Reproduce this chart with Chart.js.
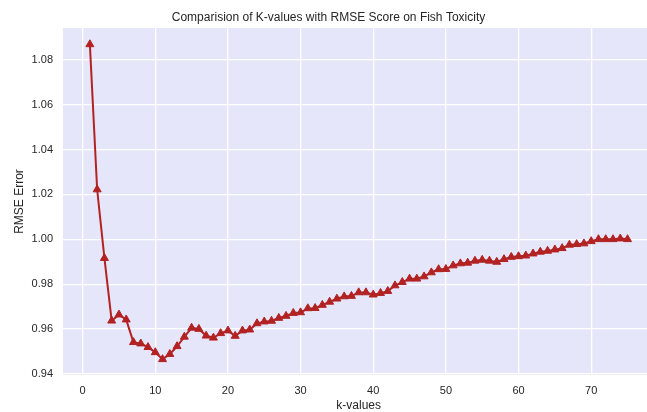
<!DOCTYPE html>
<html lang="en">
<head>
<meta charset="UTF-8" />
<title>Comparision of K-values with RMSE Score on Fish Toxicity</title>
<style>
  html, body { margin: 0; padding: 0; background: #fff; overflow: hidden; }
  #wrap { width: 660px; height: 412px; }
</style>
</head>
<body>
<div id="wrap"><canvas id="rmseChart" width="660" height="412"></canvas></div>
<script src="https://cdn.jsdelivr.net/npm/chart.js"></script>
<script>
  // k from 1 to 75
  const kValues = [];
  for (let k = 1; k <= 75; k++) kValues.push(k);

  // RMSE
  const rmseScores = [
    1.0869, 1.0222, 0.9916, 0.9637, 0.9664, 0.9642, 0.9541, 0.9535, 0.9519, 0.9496,
    0.9465, 0.9488, 0.9523, 0.9565, 0.9605, 0.9600, 0.9570, 0.9561, 0.9581, 0.9593,
    0.9569, 0.9593, 0.9597, 0.9625, 0.9633, 0.9636, 0.9649, 0.9658, 0.9671, 0.9674,
    0.9692, 0.9693, 0.9707, 0.9721, 0.9735, 0.9745, 0.9747, 0.9763, 0.9763, 0.9753,
    0.9760, 0.9769, 0.9794, 0.9809, 0.9824, 0.9824, 0.9834, 0.9852, 0.9866, 0.9867,
    0.9883, 0.9892, 0.9895, 0.9904, 0.9908, 0.9904, 0.9899, 0.9911, 0.9921, 0.9924,
    0.9927, 0.9936, 0.9944, 0.9948, 0.9954, 0.9960, 0.9975, 0.9978, 0.9981, 0.9991,
    1.0000, 1.0000, 1.0000, 1.0003, 1.0000
  ];

  const textColor = '#262626';
  const fontFamily = '"Liberation Sans", Arial, sans-serif';

  // plot background like the matplotlib axes facecolor
  const plotBackground = {
    id: 'plotBackground',
    beforeDraw(chart) {
      const { ctx, chartArea: a } = chart;
      ctx.save();
      ctx.fillStyle = '#E6E6FA';
      ctx.fillRect(a.left, a.top, a.right - a.left, a.bottom - a.top);
      ctx.restore();
    }
  };

  const ctx = document.getElementById('rmseChart').getContext('2d');
  const rmseChart = new Chart(ctx, {
    type: 'line',
    data: {
      datasets: [{
        data: kValues.map((k, i) => ({ x: k, y: rmseScores[i] })),
        borderColor: '#B22222',
        backgroundColor: '#B22222',
        borderWidth: 2,
        pointStyle: 'triangle',
        pointRadius: 4.6,
        pointBorderWidth: 1,
        tension: 0,
        fill: false
      }]
    },
    options: {
      responsive: false,
      animation: false,
      layout: { padding: { right: 3 } },
      plugins: {
        legend: { display: false },
        tooltip: { enabled: false },
        title: {
          display: true,
          text: 'Comparision of K-values with RMSE Score on Fish Toxicity',
          color: textColor,
          font: { family: fontFamily, size: 12, weight: 'normal', lineHeight: 1.2 },
          padding: { top: 10, bottom: 3.6 }
        }
      },
      scales: {
        x: {
          type: 'linear',
          min: -2.7,
          max: 78.7,
          grid: { color: '#ffffff', lineWidth: 1.3, drawTicks: false },
          border: { display: false },
          ticks: {
            stepSize: 10,
            includeBounds: false,
            padding: 9,
            color: textColor,
            font: { family: fontFamily, size: 11 }
          },
          title: {
            display: true,
            text: 'k-values',
            color: textColor,
            font: { family: fontFamily, size: 12, lineHeight: 1 },
            padding: 0
          },
          afterFit(scale) { scale.height = 37; }
        },
        y: {
          min: 0.9395,
          max: 1.0942,
          grid: { color: '#ffffff', lineWidth: 1.3, drawTicks: false },
          border: { display: false },
          ticks: {
            stepSize: 0.02,
            includeBounds: false,
            padding: 10,
            color: textColor,
            font: { family: fontFamily, size: 11 },
            callback: v => Number(v).toFixed(2)
          },
          title: {
            display: true,
            text: 'RMSE Error',
            color: textColor,
            font: { family: fontFamily, size: 12, lineHeight: 1.2 },
            padding: { top: 12 }
          },
          afterFit(scale) { scale.width = 63; }
        }
      }
    },
    plugins: [plotBackground]
  });
</script>
</body>
</html>
